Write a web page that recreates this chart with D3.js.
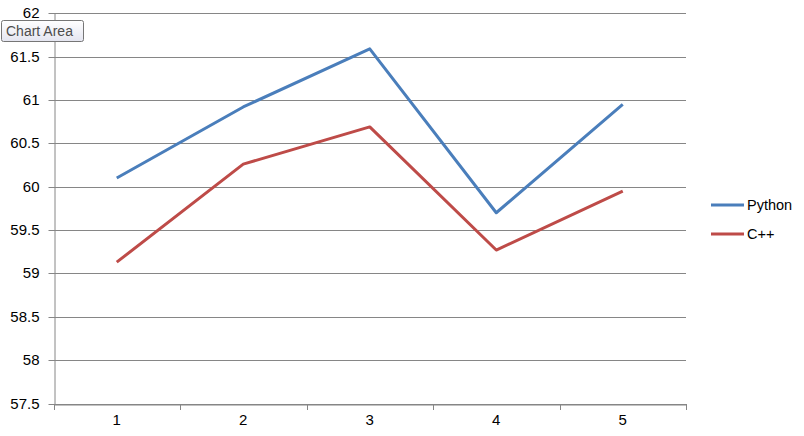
<!DOCTYPE html>
<html><head><meta charset="utf-8">
<script src="https://cdn.jsdelivr.net/npm/d3@7"></script>
<style>body{margin:0;background:#fff}svg{display:block}</style>
</head><body>
<svg id="c" width="804" height="436"></svg>
<script>
const categories = ["1","2","3","4","5"];
const seriesNames = ["Python","C++"];
const pythonValues = [60.10, 60.92, 61.59, 59.70, 60.95];
const cppValues = [59.13, 60.26, 60.69, 59.27, 59.95];
const yTicks = [57.5,58,58.5,59,59.5,60,60.5,61,61.5,62];
const colors = ["#4A7EBB","#BE4B48"];

const svg = d3.select("#c");
const L=53.5, R=686, T=13.3, B=403.5;
const font = "'Liberation Sans', Arial, sans-serif";
const x = d3.scaleBand().domain(categories).range([L,R]);
const y = d3.scaleLinear().domain([57.5,62]).range([B,T]);

// gridlines
svg.append("g").selectAll("line").data(yTicks).join("line")
  .attr("x1",L).attr("x2",R)
  .attr("y1",d=>Math.round(y(d))+0.5).attr("y2",d=>Math.round(y(d))+0.5)
  .attr("stroke","#868686").attr("stroke-width",1);

// y axis
const ya = svg.append("g").attr("transform",`translate(${Math.round(L)+0.5},0)`)
  .call(d3.axisLeft(y).tickValues(yTicks).tickSize(6).tickSizeOuter(0).tickFormat(d=>String(d)));
ya.select(".domain").attr("stroke","#868686");
ya.selectAll(".tick line").attr("stroke","#868686").attr("transform","translate(0,0.5)");
ya.selectAll(".tick text").attr("font-family",font).attr("font-size",15).attr("fill","#000").attr("x",-15);
ya.selectAll(".tick").attr("transform",d=>`translate(0,${Math.round(y(d))})`);

// x axis
const xa = svg.append("g").attr("transform",`translate(0,${Math.round(B)+0.5})`)
  .call(d3.axisBottom(x).tickSize(0).tickSizeOuter(0));
xa.select(".domain").attr("stroke","#868686");
xa.selectAll(".tick text").attr("font-family",font).attr("font-size",15).attr("fill","#000").attr("dy","1.15em");
const bounds = categories.map(c=>x(c)).concat([R]);
svg.append("g").selectAll("line").data(bounds).join("line")
  .attr("x1",d=>Math.round(d)+0.5).attr("x2",d=>Math.round(d)+0.5)
  .attr("y1",Math.round(B)).attr("y2",Math.round(B)+6)
  .attr("stroke","#868686");

// lines
const line = d3.line().x((d,i)=>x(categories[i])+x.bandwidth()/2).y(d=>y(d));
[pythonValues,cppValues].forEach((vals,i)=>{
  svg.append("path").datum(vals).attr("d",line).attr("fill","none")
    .attr("stroke",colors[i]).attr("stroke-width",3).attr("stroke-linejoin","round");
});

// legend
seriesNames.forEach((n,i)=>{
  const ly = 205 + i*29;
  svg.append("line").attr("x1",711).attr("x2",744).attr("y1",ly).attr("y2",ly)
    .attr("stroke",colors[i]).attr("stroke-width",3);
  svg.append("text").attr("x",747).attr("y",ly+5).attr("font-family",font)
    .attr("font-size",14.5).text(n);
});

// "Chart Area" tooltip
const defs = svg.append("defs");
const g = defs.append("linearGradient").attr("id","tg").attr("x1",0).attr("x2",0).attr("y1",0).attr("y2",1);
g.append("stop").attr("offset","0").attr("stop-color","#ffffff");
g.append("stop").attr("offset","1").attr("stop-color","#e4e5f0");
svg.append("rect").attr("x",1.5).attr("y",20.5).attr("width",82).attr("height",21).attr("rx",2)
  .attr("fill","url(#tg)").attr("stroke","#767676");
svg.append("text").attr("x",6).attr("y",36).attr("font-family",font).attr("font-size",14)
  .attr("fill","#4c4c4c").text("Chart Area");
</script>
</body></html>
